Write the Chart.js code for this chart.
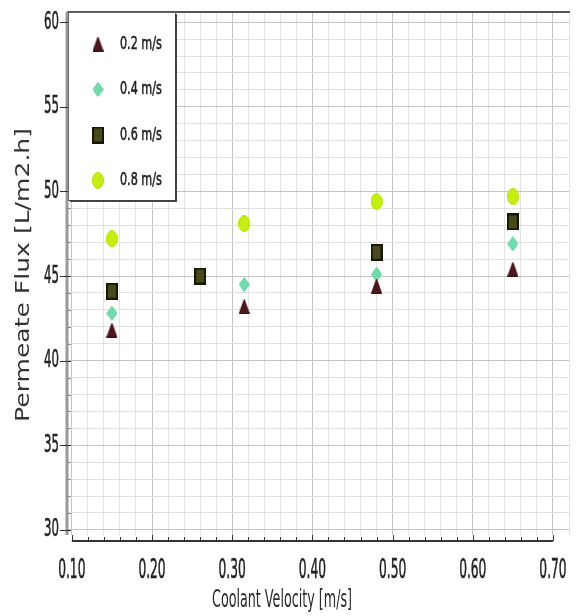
<!DOCTYPE html>
<html>
<head>
<meta charset="utf-8">
<script src="https://cdn.jsdelivr.net/npm/chart.js@4.4.1/dist/chart.umd.min.js"></script>
<style>
  body { margin: 0; background: #fff; }
  canvas { display: block; }
</style>
</head>
<body>
<canvas id="fluxChart" width="578" height="616"></canvas>
<script>
// series names (feed velocity)
const seriesNames = ['0.2 m/s', '0.4 m/s', '0.6 m/s', '0.8 m/s'];

// coolant velocity [m/s] and permeate flux [L/m2.h]
const vel02 = [0.15, 0.315, 0.48, 0.65];
const flux02 = [41.8, 43.2, 44.4, 45.4];
const vel04 = [0.15, 0.315, 0.48, 0.65];
const flux04 = [42.8, 44.5, 45.1, 46.9];
const vel06 = [0.15, 0.26, 0.48, 0.65];
const flux06 = [44.1, 45.0, 46.4, 48.2];
const vel08 = [0.15, 0.315, 0.48, 0.65];
const flux08 = [47.2, 48.1, 49.4, 49.7];

// tick labels
const xTickLabels = ['0.10', '0.20', '0.30', '0.40', '0.50', '0.60', '0.70'];
const yTickLabels = ['30', '35', '40', '45', '50', '55', '60'];

const xTitle = 'Coolant Velocity [m/s]';
const yTitle = 'Permeate Flux [L/m2.h]';

function makeMarker(shape, w, h, fill, stroke) {
    const c = document.createElement('canvas');
    c.width = w;
    c.height = h;
    const g = c.getContext('2d');
    g.fillStyle = fill;
    g.strokeStyle = stroke;
    g.lineWidth = 1;
    g.beginPath();
    if (shape === 'triangle') {
        g.moveTo(w / 2, 0.5);
        g.lineTo(w - 0.5, h - 0.5);
        g.lineTo(0.5, h - 0.5);
        g.closePath();
    } else if (shape === 'diamond') {
        g.moveTo(w / 2, 0.5);
        g.lineTo(w - 0.5, h / 2);
        g.lineTo(w / 2, h - 0.5);
        g.lineTo(0.5, h / 2);
        g.closePath();
    } else if (shape === 'rect') {
        g.rect(1, 1, w - 2, h - 2);
    } else {
        g.ellipse(w / 2, h / 2, w / 2 - 0.5, h / 2 - 0.5, 0, 0, Math.PI * 2);
    }
    g.fill();
    g.lineWidth = shape === 'rect' ? 2 : 1;
    g.stroke();
    return c;
}

const markers = [
    makeMarker('triangle', 11, 15, '#4e151a', '#3a0e12'),
    makeMarker('diamond', 11, 15, '#6edcab', '#5ccf9c'),
    makeMarker('rect', 12, 17, '#48481a', '#161608'),
    makeMarker('ellipse', 12, 17, '#c4ee0e', '#b6e000')
];

function toPoints(xs, ys) {
    return xs.map((x, i) => ({ x: x, y: ys[i] }));
}

const seriesData = [
    toPoints(vel02, flux02),
    toPoints(vel04, flux04),
    toPoints(vel06, flux06),
    toPoints(vel08, flux08)
];

const FONT = '"DejaVu Sans", "Liberation Sans", sans-serif';
const NARROW = 0.47;

// text drawn horizontally squeezed like the source picture
function squeezedText(ctx, text, x, y, size, sx, align, color) {
    ctx.save();
    ctx.font = size + 'px ' + FONT;
    ctx.fillStyle = color || '#222';
    ctx.strokeStyle = color || '#222';
    ctx.lineWidth = 0.6;
    ctx.textAlign = align;
    ctx.textBaseline = 'middle';
    ctx.translate(x, y);
    ctx.scale(sx, 1);
    ctx.fillText(text, 0, 0);
    ctx.strokeText(text, 0, 0);
    ctx.restore();
}

function fitText(ctx, text, x, y, size, width, rot, color) {
    ctx.save();
    ctx.font = size + 'px ' + FONT;
    const m = ctx.measureText(text).width;
    ctx.fillStyle = color || '#2a2a2a';
    ctx.textAlign = 'center';
    ctx.textBaseline = 'middle';
    ctx.translate(x, y);
    ctx.rotate(rot);
    ctx.scale(width / m, 1);
    ctx.fillText(text, 0, 0);
    ctx.restore();
}

const decorations = {
    id: 'decorations',
    afterDraw(chart) {
        const ctx = chart.ctx;
        const area = chart.chartArea;
        const xs = chart.scales.x;
        const ys = chart.scales.y;

        // top frame
        ctx.save();
        ctx.strokeStyle = '#555';
        ctx.lineWidth = 2;
        ctx.beginPath();
        ctx.moveTo(area.left, area.top);
        ctx.lineTo(area.right + 1, area.top);
        ctx.stroke();

        // y axis line and ticks
        ctx.strokeStyle = '#9a9a9a';
        ctx.lineWidth = 3;
        ctx.beginPath();
        ctx.moveTo(area.left, area.top);
        ctx.lineTo(area.left, area.bottom);
        ctx.stroke();
        ctx.lineWidth = 1;
        for (let v = 30; v <= 60; v++) {
            const py = Math.round(ys.getPixelForValue(v)) + 0.5;
            ctx.beginPath();
            if (v % 5 === 0) {
                ctx.strokeStyle = '#333';
                ctx.moveTo(area.left - 7, py);
                ctx.lineTo(area.left + 4, py);
            } else {
                ctx.strokeStyle = '#888';
                ctx.moveTo(area.left, py);
                ctx.lineTo(area.left + 4, py);
            }
            ctx.stroke();
        }

        // detached x axis
        const x0 = xs.getPixelForValue(Number(xTickLabels[0]));
        const x1 = xs.getPixelForValue(Number(xTickLabels[xTickLabels.length - 1]));
        const axY = area.bottom + 6;
        ctx.strokeStyle = '#333';
        ctx.lineWidth = 2;
        ctx.beginPath();
        ctx.moveTo(x0, axY);
        ctx.lineTo(x1, axY);
        ctx.stroke();
        ctx.lineWidth = 1;
        for (let i = 5; i <= 35; i++) {
            const px = Math.round(xs.getPixelForValue(i / 50)) + 0.5;
            ctx.beginPath();
            ctx.moveTo(px, axY);
            ctx.lineTo(px, axY - (i % 5 === 0 ? 6 : 4));
            ctx.stroke();
        }
        ctx.restore();

        // tick labels
        xTickLabels.forEach(t => {
            squeezedText(ctx, t, xs.getPixelForValue(Number(t)), 571, 26, NARROW, 'center');
        });
        yTickLabels.forEach(t => {
            squeezedText(ctx, t, area.left - 8, ys.getPixelForValue(Number(t)), 25, NARROW, 'right');
        });

        // axis titles
        fitText(ctx, xTitle, 282, 601, 24, 140, 0);
        fitText(ctx, yTitle, 24, 275, 20, 294, -Math.PI / 2, '#333');

        // legend box
        const bx = area.left + 1, by = area.top, bw = 107, bh = 188;
        ctx.save();
        ctx.fillStyle = '#fff';
        ctx.fillRect(bx, by, bw, bh);
        ctx.strokeStyle = '#666';
        ctx.lineWidth = 1;
        ctx.strokeRect(bx + 0.5, by + 0.5, bw, bh);
        ctx.strokeStyle = '#444';
        ctx.lineWidth = 2;
        ctx.beginPath();
        ctx.moveTo(bx + bw + 1, by + 2);
        ctx.lineTo(bx + bw + 1, by + bh + 1);
        ctx.lineTo(bx + 2, by + bh + 1);
        ctx.stroke();
        ctx.restore();

        chart.data.datasets.forEach((ds, i) => {
            const cy = by + 32 + i * 45.5;
            const img = ds.pointStyle;
            ctx.drawImage(img, bx + 30 - img.width / 2, cy - img.height / 2);
            squeezedText(ctx, ds.label, bx + 52, cy, 18, 0.62, 'left');
        });
    }
};

const majorX = v => Math.abs(v * 10 - Math.round(v * 10)) < 1e-6;

new Chart(document.getElementById('fluxChart'), {
    type: 'scatter',
    data: {
        datasets: seriesNames.map((name, i) => ({
            label: name,
            data: seriesData[i],
            pointStyle: markers[i],
            pointRadius: 8,
            showLine: false
        }))
    },
    options: {
        responsive: false,
        animation: false,
        devicePixelRatio: 1,
        layout: { padding: { top: 12, right: 9, left: 0, bottom: 0 } },
        plugins: {
            legend: { display: false },
            tooltip: { enabled: false }
        },
        scales: {
            x: {
                type: 'linear',
                min: 0.094,
                max: 0.72,
                afterBuildTicks(scale) {
                    const ticks = [];
                    for (let i = 5; i <= 36; i++) ticks.push({ value: i / 50 });
                    scale.ticks = ticks;
                },
                afterFit(scale) { scale.height = 81; },
                ticks: { display: false },
                border: { display: false },
                grid: {
                    drawTicks: false,
                    color: c => majorX(c.tick.value) ? '#c4c4c4' : '#e4e4e4',
                    lineWidth: 1
                }
            },
            y: {
                min: 29.7,
                max: 60.6,
                afterBuildTicks(scale) {
                    const ticks = [];
                    for (let v = 30; v <= 60; v++) ticks.push({ value: v });
                    scale.ticks = ticks;
                },
                afterFit(scale) { scale.width = 67; },
                ticks: { display: false },
                border: { display: false },
                grid: {
                    drawTicks: false,
                    color: c => c.tick.value % 5 === 0 ? '#c4c4c4' : '#e0e0e0',
                    lineWidth: 1
                }
            }
        }
    },
    plugins: [decorations]
});
</script>
</body>
</html>
